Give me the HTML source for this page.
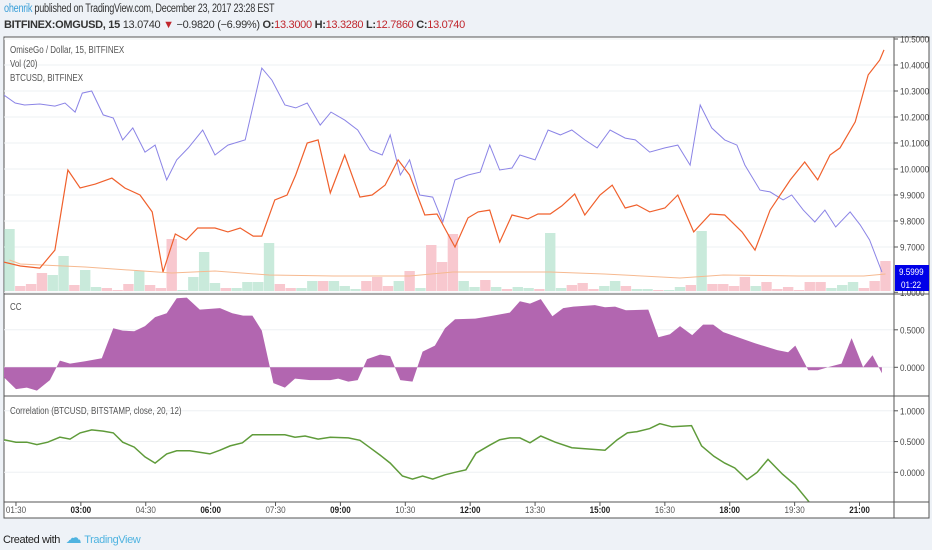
<!DOCTYPE html>
<html><head><meta charset="utf-8">
<style>
html,body{margin:0;padding:0;}
body{width:932px;height:550px;background:#eef2f7;font-family:"Liberation Sans",sans-serif;position:relative;overflow:hidden;}
#hdr1{position:absolute;left:4px;top:3px;font-size:11.5px;color:#333;letter-spacing:-0.3px;transform:scaleX(0.79);transform-origin:left top;white-space:nowrap}
#hdr2{position:absolute;left:4px;top:19px;font-size:11px;color:#333;letter-spacing:-0.3px;white-space:nowrap}
.red{color:#c0262d}
#foot{position:absolute;left:3px;top:528px;font-size:11px;color:#222;letter-spacing:-0.4px}
svg{position:absolute;left:0;top:0}
</style></head><body>
<div id="hdr1"><span style="color:#3a9fd8">ohenrik</span> published on TradingView.com, December 23, 2017 23:28 EST</div>
<div id="hdr2"><b>BITFINEX:OMGUSD, 15</b> 13.0740 <span class="red">▼</span> −0.9820 (−6.99%) <b>O:</b><span class="red">13.3000</span> <b>H:</b><span class="red">13.3280</span> <b>L:</b><span class="red">12.7860</span> <b>C:</b><span class="red">13.0740</span></div>
<div id="foot">Created with <span style="color:#4fb3e0;font-size:16px;margin:0 3px">☁</span><span style="color:#4fb3e0">TradingView</span></div>
<svg id="chart" width="932" height="550"></svg>
<script>
// ----- data -----
const btcT=[73,89,102,123,144,158,172,182,195,211,225,238,252,269,283,299,313,329,349,366,384,408,431,445,463,478,494,512,527,546,564,581,598,609,623,636,650,668,682,699,717,734,747,761,778,789,810,828,845,861,879,896,914,935,949,969,990,1008,1025,1039,1055,1073,1090,1101,1122,1136,1154,1166,1182,1198,1212,1227,1247,1261,1274,1291];
const btcV=[10.285,10.254,10.246,10.250,10.242,10.254,10.219,10.292,10.300,10.208,10.196,10.112,10.158,10.065,10.092,9.958,10.035,10.081,10.150,10.054,10.092,10.112,10.388,10.342,10.246,10.235,10.254,10.169,10.219,10.188,10.150,10.073,10.054,10.131,9.977,10.035,9.900,9.892,9.796,9.958,9.977,9.988,10.092,9.996,10.004,10.054,10.035,10.150,10.131,10.150,10.112,10.081,10.150,10.119,10.112,10.065,10.081,10.092,10.015,10.246,10.158,10.112,10.092,10.015,9.919,9.912,9.881,9.900,9.842,9.796,9.842,9.777,9.835,9.785,9.727,9.604];
const omgT=[73,96,123,144,162,179,200,223,241,262,279,294,311,326,342,366,384,401,419,431,449,466,478,494,509,526,546,567,584,602,620,636,657,674,699,717,731,747,761,778,800,814,831,847,865,879,900,917,935,951,969,990,1008,1030,1053,1073,1097,1115,1136,1164,1184,1202,1219,1233,1254,1272,1288,1294];
const omgV=[9.642,9.627,9.619,9.688,9.996,9.927,9.942,9.965,9.927,9.900,9.835,9.604,9.750,9.727,9.773,9.773,9.758,9.773,9.742,9.742,9.881,9.900,9.977,10.100,10.112,9.908,10.054,9.892,9.900,9.938,10.035,9.977,9.823,9.827,9.700,9.812,9.835,9.842,9.719,9.823,9.808,9.827,9.827,9.858,9.904,9.823,9.900,9.938,9.850,9.862,9.835,9.850,9.900,9.758,9.827,9.823,9.758,9.688,9.842,9.958,10.027,9.958,10.054,10.081,10.181,10.362,10.419,10.458];
const volV=[62,5,7,18,16,35,6,21,4,3,1,7,20,6,3,52,1,14,39,8,3,3,9,9,48,7,3,3,10,10,10,5,2,10,14,5,10,20,3,46,29,57,10,4,11,4,2,4,3,2,58,3,6,8,2,5,10,5,2,2,1,1,4,6,60,7,7,5,14,5,9,2,4,1,9,9,3,6,9,3,10,30];
const volUp=[1,0,0,0,1,1,0,1,1,0,0,0,1,0,0,0,1,1,1,1,0,1,1,1,1,0,0,1,1,0,1,1,1,0,0,0,1,0,1,0,0,0,1,1,0,1,0,1,1,0,1,1,0,0,0,1,1,0,1,1,0,1,1,0,1,0,0,0,0,1,0,0,0,0,0,0,1,1,1,0,0,0];
const volMaI=[0,1,3,7,15,19,24,30,37,39,41,50,55,62,66,73,79,81];
const volMaV=[31,27,26,24,18,20,16,15,15,17,19,19,17,13,16,15,15,17];
const ccT=[73,90,105,119,137,151,165,186,209,225,238,254,269,283,299,313,327,345,373,390,405,418,431,447,463,477,498,526,537,551,564,577,595,609,623,640,654,671,685,699,727,747,775,789,803,818,834,849,863,893,907,921,936,967,981,997,1011,1028,1043,1057,1071,1115,1146,1161,1171,1189,1202,1219,1235,1249,1265,1278,1291];
const ccV=[-0.13,-0.29,-0.27,-0.31,-0.17,0.09,0.05,0.08,0.12,0.52,0.49,0.48,0.55,0.67,0.72,0.92,0.93,0.77,0.79,0.72,0.69,0.69,0.49,-0.21,-0.27,-0.15,-0.17,-0.17,-0.15,-0.19,-0.17,0.11,0.17,0.15,-0.17,-0.19,0.21,0.29,0.52,0.64,0.65,0.68,0.73,0.88,0.85,0.91,0.68,0.79,0.81,0.83,0.80,0.81,0.76,0.77,0.40,0.44,0.55,0.43,0.57,0.57,0.47,0.32,0.23,0.20,0.29,-0.04,-0.04,0.01,0.05,0.39,0.0,0.16,-0.08];
const corT=[73,90,105,119,134,151,165,179,195,211,225,238,254,269,283,299,313,331,359,373,387,404,418,436,463,477,491,509,526,551,567,581,595,609,626,640,654,668,685,699,714,728,747,761,775,789,803,818,838,861,907,924,938,951,969,983,1000,1027,1041,1058,1073,1087,1104,1118,1133,1153,1171,1190];
const corV=[0.53,0.49,0.49,0.45,0.49,0.57,0.54,0.64,0.69,0.67,0.64,0.49,0.41,0.25,0.15,0.30,0.35,0.35,0.30,0.36,0.43,0.48,0.61,0.61,0.61,0.57,0.59,0.54,0.57,0.56,0.52,0.40,0.28,0.15,-0.06,-0.11,-0.06,-0.11,-0.04,0.0,0.04,0.31,0.44,0.53,0.56,0.56,0.48,0.59,0.49,0.40,0.36,0.53,0.64,0.66,0.71,0.79,0.74,0.76,0.43,0.26,0.15,0.07,-0.12,0.0,0.21,-0.03,-0.21,-0.48];
const priceTicks=[10.5,10.4,10.3,10.2,10.1,10.0,9.9,9.8,9.7];
const ccTicks=[1.0,0.5,0.0];
const corTicks=[1.0,0.5,0.0];
const timeTicks=[90,180,270,360,450,540,630,720,810,900,990,1080,1170,1260];
const timeLabels=["01:30","03:00","04:30","06:00","07:30","09:00","10:30","12:00","13:30","15:00","16:30","18:00","19:30","21:00"];
const boldIdx=[1,3,5,7,9,11,13];
// ----- scales -----
const L=4,R=894,SR=929;
const x=t=>L+(t-73.4)/1.387;
const yP=v=>65+(10.4-v)*260;
const yVol=h=>291-h;
const yCC=v=>367.3-v*75;
const yCor=v=>472.3-v*61.5;
const svg=document.getElementById('chart');
const NS='http://www.w3.org/2000/svg';
function mk(tag,at,parent){const e=document.createElementNS(NS,tag);for(const k in at)e.setAttribute(k,at[k]);(parent||svg).appendChild(e);return e;}
function txt(s,tx,ty,sx,at){const t=mk('text',Object.assign({transform:'translate('+tx+','+ty+') scale('+sx+',1)'},at));t.textContent=s;return t;}
// frame
let fr=mk('rect',{x:4,y:37,width:925,height:481,fill:'#fff',stroke:'#555','stroke-width':1});


function clip(id,y0,y1){const c=mk('clipPath',{id:id});mk('rect',{x:L,y:y0,width:R-L,height:y1-y0},c);}
clip('c1',37,294);clip('c2',294,396);clip('c3',396,502);
// grids + ticks
function grid(ticks,yf,fmt,name){
 ticks.forEach(v=>{const y=yf(v);
  const g=mk('line',{x1:L,x2:R,y1:y,y2:y,stroke:'#eef0f3'});
  
  
  mk('line',{x1:R,x2:R+4,y1:y,y2:y,stroke:'#555'});
  const t=txt(fmt(v),R+6,y+3.5,0.85,{'font-size':9.5,fill:'#444'});
  
  
 });}
grid(priceTicks,yP,v=>v.toFixed(4),'price-axis');
grid(ccTicks,yCC,v=>v.toFixed(4),'cc-axis');
grid(corTicks,yCor,v=>v.toFixed(4),'correlation-axis');
// volume bars
const gv=mk('g',{'clip-path':'url(#c1)'});


volV.forEach((h,i)=>{const cx=x(81+15*i);
 const b=mk('rect',{x:cx-5.2,y:yVol(h),width:10.4,height:h,fill:volUp[i]?'#c9eadb':'#f8c8cf'},gv);
 
 });
function line(T,V,yf,color,w,cl,name){
 const d=T.map((t,i)=>(i?'L':'M')+x(t).toFixed(1)+','+yf(V[i]).toFixed(1)).join('');
 const p=mk('path',{d:d,fill:'none',stroke:color,'stroke-width':w,'clip-path':'url(#'+cl+')'});
 
 return p;}
line(volMaI.map(i=>81+15*i),volMaV,yVol,'#f6b990',1,'c1','volume-ma-line');
line(btcT,btcV,yP,'#8b84e6',1,'c1','btcusd-line');
line(omgT,omgV,yP,'#f0602c',1.2,'c1','omgusd-line');
// CC area
{const d='M'+x(ccT[0])+','+yCC(0)+ccT.map((t,i)=>'L'+x(t).toFixed(1)+','+yCC(ccV[i]).toFixed(1)).join('')+'L'+x(ccT[ccT.length-1])+','+yCC(0)+'Z';
 const a=mk('path',{d:d,fill:'#b266b0','clip-path':'url(#c2)'});
 
 }
line(corT,corV,yCor,'#5f9b3a',1.5,'c3','correlation-line');
// separators
[294,396,502].forEach(y=>{const s=mk('line',{x1:4,x2:929,y1:y,y2:y,stroke:'#555'});
 
 });
const sv=mk('line',{x1:R,x2:R,y1:37,y2:518,stroke:'#555'});


// time axis
timeTicks.forEach((t,i)=>{const xx=x(t);
 mk('line',{x1:xx,x2:xx,y1:502,y2:506,stroke:'#555'});
 const tx=txt(timeLabels[i],xx,513,0.85,{'font-size':9.5,fill:boldIdx.includes(i)?'#222':'#555','font-weight':boldIdx.includes(i)?'bold':'normal','text-anchor':'middle'});
 
 });
// legends
[["OmiseGo / Dollar, 15, BITFINEX",53,'main-legend'],["Vol (20)",67,'volume-legend'],["BTCUSD, BITFINEX",81,'btc-legend'],["CC",310,'cc-legend'],["Correlation (BTCUSD, BITSTAMP, close, 20, 12)",414,'correlation-legend']].forEach(a=>{
 const t=txt(a[0],10,a[1],0.76,{'font-size':10.5,fill:'#555'});
 
 });
// last price labels
const pl=mk('rect',{x:895,y:265,width:34,height:13,fill:'#0000e8'});


let t1=txt('9.5999',899,275,0.85,{'font-size':9.5,fill:'#fff'});


const cb=mk('rect',{x:895,y:278,width:34,height:13,fill:'#0000e8'});


let t2=txt('01:22',901,288,0.85,{'font-size':9.5,fill:'#fff'});


</script>
</body></html>
